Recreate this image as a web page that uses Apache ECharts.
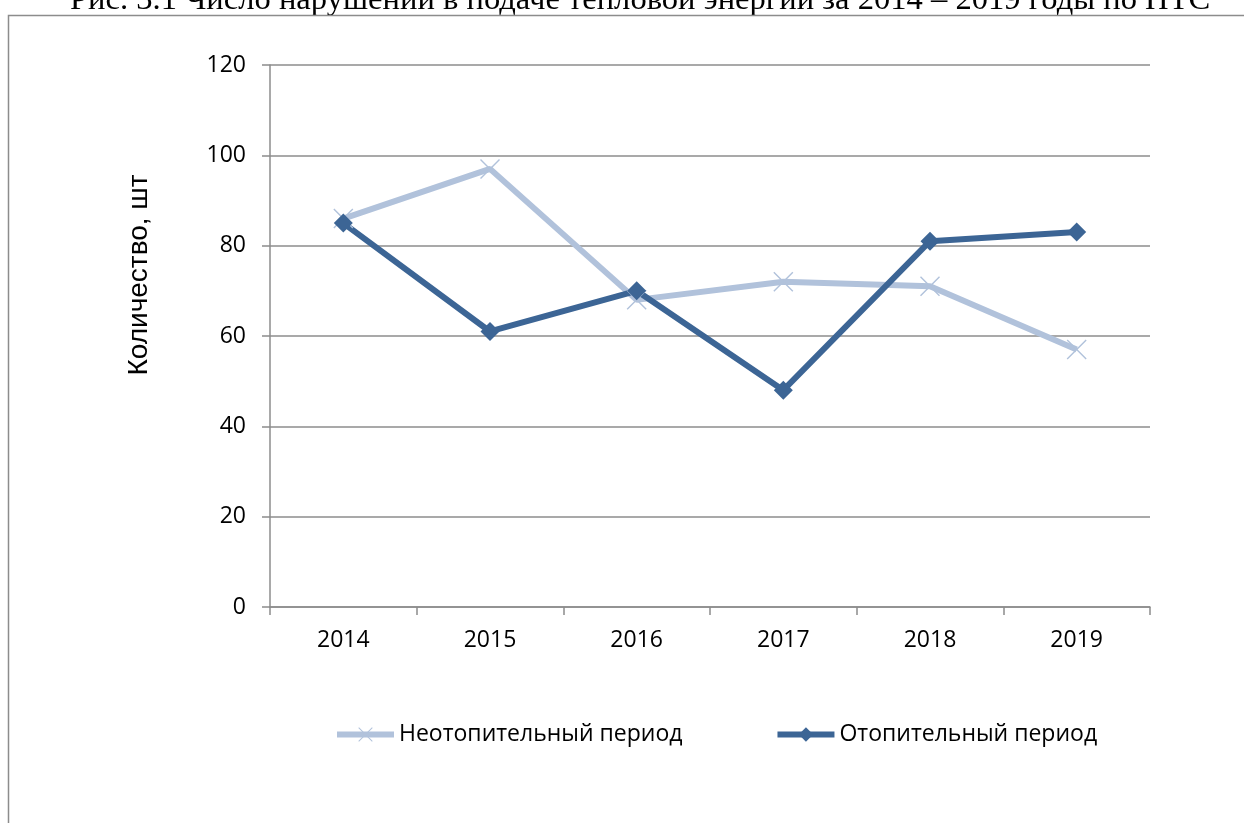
<!DOCTYPE html>
<html>
<head>
<meta charset="utf-8">
<script src="https://cdn.jsdelivr.net/npm/echarts@6/dist/echarts.min.js"></script>
<style>
  html, body { margin: 0; padding: 0; background: #fff; }
  #main { width: 1244px; height: 823px; }
</style>
</head>
<body>
<div id="main"></div>
<script>
let years = ['2014', '2015', '2016', '2017', '2018', '2019'];
let nonHeating = [86, 97, 68, 72, 71, 57];
let heating = [85, 61, 70, 48, 81, 83];
let titleText = 'Рис. 3.1 Число нарушений в подаче тепловой энергии за 2014 – 2019 годы по ПТС';
let yAxisTitle = 'Количество, шт';

let chartDom = document.getElementById('main');
let myChart = echarts.init(chartDom);

const LIGHT = '#b1c2db';
const DARK = '#3c6595';
const GRID_GRAY = '#8c8c8c';
// X marker as a filled polygon so it draws like a stroke
const CROSS = 'path://M0,1L1,0L10,9L19,0L20,1L11,10L20,19L19,20L10,11L1,20L0,19L9,10Z';

let opt = {
    backgroundColor: '#fff',
    animation: false,
    textStyle: { fontFamily: 'Open Sans' },
    graphic: [
        {
            type: 'text',
            left: 70,
            top: -16,
            style: {
                text: titleText,
                font: '32.6px "Liberation Serif"',
                fill: '#000'
            }
        },
        {
            type: 'rect',
            shape: { x: 8.5, y: 15.5, width: 1300, height: 900 },
            style: { fill: 'none', stroke: GRID_GRAY, lineWidth: 1.5 },
            silent: true
        },
        {
            type: 'text',
            x: 139,
            y: 275,
            rotation: Math.PI / 2,
            style: {
                text: yAxisTitle,
                font: '28px "Liberation Sans"',
                fill: '#000',
                align: 'center',
                verticalAlign: 'middle'
            }
        }
    ],
    grid: { left: 270, right: 94, top: 65, bottom: 216 },
    legend: {
        left: 334,
        top: 723,
        padding: 0,
        itemGap: 92,
        itemWidth: 57,
        itemHeight: 18,
        lineStyle: { width: 6 },
        textStyle: { fontSize: 23, color: '#000', fontFamily: 'Open Sans' },
        data: ['Неотопительный период', 'Отопительный период']
    },
    xAxis: {
        type: 'category',
        data: years,
        boundaryGap: true,
        axisLine: { lineStyle: { color: GRID_GRAY, width: 1.5 } },
        axisTick: { show: true, length: 8, lineStyle: { color: GRID_GRAY, width: 1.5 } },
        axisLabel: { fontSize: 23, color: '#000', margin: 22 }
    },
    yAxis: {
        type: 'value',
        min: 0,
        max: 120,
        interval: 20,
        axisLine: { show: true, lineStyle: { color: GRID_GRAY, width: 1.5 } },
        axisTick: { show: true, length: 8, lineStyle: { color: GRID_GRAY, width: 1.5 } },
        axisLabel: { fontSize: 23, color: '#000', margin: 24 },
        splitLine: { lineStyle: { color: GRID_GRAY, width: 1.5 } }
    },
    series: [
        {
            name: 'Неотопительный период',
            type: 'line',
            data: nonHeating,
            symbol: CROSS,
            symbolSize: 20,
            lineStyle: { color: LIGHT, width: 6 },
            itemStyle: { color: LIGHT }
        },
        {
            name: 'Отопительный период',
            type: 'line',
            data: heating,
            symbol: 'diamond',
            symbolSize: 19,
            lineStyle: { color: DARK, width: 6 },
            itemStyle: { color: DARK }
        }
    ]
};
myChart.setOption(opt);
</script>
</body>
</html>
